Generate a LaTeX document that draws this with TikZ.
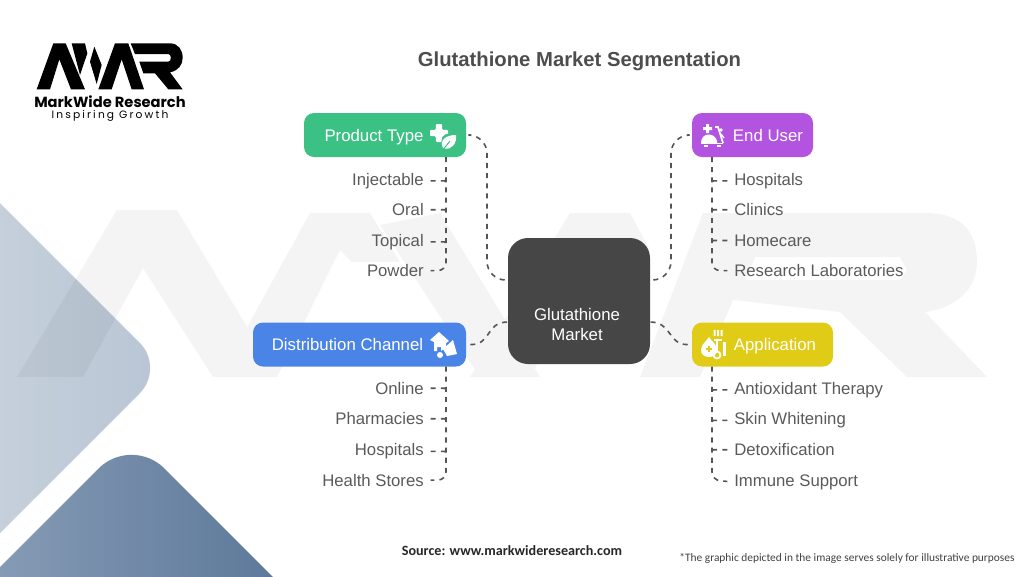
\documentclass[tikz,border=0pt]{standalone}
\usepackage{fontspec}
\setmainfont{Liberation Sans}
\newfontfamily\logofont{Poppins}
\newfontfamily\notefont{Carlito}
\usetikzlibrary{calc}
\definecolor{ink}{HTML}{5A5A5A}
\definecolor{dashc}{HTML}{555555}
\definecolor{gr}{HTML}{3CC184}
\definecolor{pu}{HTML}{B254DF}
\definecolor{bl}{HTML}{4A84E6}
\definecolor{ye}{HTML}{E0CB16}
\definecolor{ce}{HTML}{464646}
\definecolor{titlec}{HTML}{4D4D4D}
\definecolor{la}{HTML}{D2DAE3}
\definecolor{lb}{HTML}{B8C5D4}
\definecolor{da}{HTML}{94A7BF}
\definecolor{db}{HTML}{4C6A8E}
\tikzset{
 x=0.75pt,y=-0.75pt,
 boxn/.style={rounded corners=7.5pt,minimum height=33pt,inner sep=0pt,text=white,text height=9pt,text depth=0pt,font=\fontsize{12.6}{15}\selectfont},
 itemr/.style={anchor=mid west,inner sep=0pt,yshift=-2pt,text=ink,font=\fontsize{12.55}{15}\selectfont},
 iteml/.style={anchor=mid east,inner sep=0pt,yshift=-2pt,text=ink,font=\fontsize{12.55}{15}\selectfont},
 conn/.style={draw=dashc,line width=1.2pt,dash pattern=on 3.8pt off 3.8pt},
 logop/.style={fill=black,draw=none},
 wmp/.style={fill=black,fill opacity=0.045,draw=none},
 icon/.style={fill=white,draw=none},
}
\begin{document}
\begin{tikzpicture}
\useasboundingbox (0,0) rectangle (1024,576);
% background shapes
\begin{scope}
\clip (0,0) rectangle (1024,576);
\path[rounded corners=27pt,shade,shading angle=-20,left color=la,right color=lb] (-160,43)--(165,368)--(-160,693)--cycle;
\path[rounded corners=35pt,shade,shading angle=-20,left color=da,right color=db] (-100,667)--(131.5,435.5)--(390,694)--cycle;
\end{scope}
% watermark
\path[wmp] (17,377)--(117,210)--(177,210)--(277,377)--(213,377)--(143,268)--(83,377)--cycle
 (240,340)--(310,213)--(370,213)--(400,262)--(352,262)--(340,250)--(277,377)--cycle
 (380,225)--(440,213)--(540,377)--(480,377)--cycle
 (470,377)--(570,213)--(630,213)--(650,250)--(600,250)--(530,377)--cycle
 (640,377)--(703,213)--(925,213) .. controls (965,213) and (977,235) .. (977,262) .. controls (977,290) and (955,308) .. (925,312) -- (987,377)--(907,377)--(840,312)--(733,300)--(700,377)--cycle
 (745,280)--(900,280)--(907,270)--(900,257)--(755,257)--cycle;
% logo
\begin{scope}[shift={(0,20)},x=0.25pt,y=-0.25pt]
\path[logop] (110,208)--(160,70)--(197,70)--(255,208)--(213,208)--(178,118)--(150,208)--cycle;
\path[logop] (215,70)--(255,70)--(262,100)--(240,165)--cycle;
\path[logop] (283,80)--(305,135)--(290,192)--(270,125)--cycle;
\path[logop] (295,208)--(345,70)--(385,70)--(432,208)--(395,208)--(365,118)--(335,208)--cycle;
\path[logop] (392,70)--(510,70) .. controls (535,70) and (548,90) .. (548,113) .. controls (548,135) and (535,152) .. (510,157)--(548,208)--(505,208)--(465,160)--(430,160)--(418,125)--(505,125) .. controls (515,125) and (515,102) .. (505,102)--(405,102)--cycle;
\end{scope}
\node[inner sep=0pt,font=\logofont\bfseries\fontsize{11}{12}\selectfont] (logoname) at (110,101.5) {MarkWide Research};
\node[inner sep=0pt,font=\logofont\fontsize{8}{10}\selectfont] (logotag) at (110,115.5) {\addfontfeature{LetterSpace=20}Inspiring Growth};
% title
\node[inner sep=0pt,text=titlec,font=\bfseries\fontsize{15.2}{18}\selectfont] (title) at (579.5,61) {Glutathione Market Segmentation};
% connector coordinates
\coordinate (c1) at (508,280);
\coordinate (c2) at (650,280);
\coordinate (c3) at (508,322);
\coordinate (c4) at (650,322);
\coordinate (m1) at (487,135);
\coordinate (m1b) at (487,280);
\coordinate (m2) at (671,135);
\coordinate (m2b) at (671,280);
\coordinate (t1) at (446,157);
\coordinate (t1b) at (446,270.5);
\coordinate (t2) at (712,157);
\coordinate (t2b) at (712,270.5);
\coordinate (t3) at (446,366.5);
\coordinate (t3b) at (446,480);
\coordinate (t4) at (712,366.5);
\coordinate (t4b) at (712,480);
% boxes
\node[boxn,fill=gr,minimum width=121.5pt] (ptype) at (385,135) {Product Type\hspace*{16.5pt}};
\node[boxn,fill=pu,minimum width=90.75pt] (euser) at (752.5,135) {\hspace*{23.25pt}End User};
\node[boxn,fill=bl,minimum width=159.75pt] (dist) at (359.5,344.5) {Distribution Channel\hspace*{18pt}};
\node[boxn,fill=ye,minimum width=105.75pt] (appl) at (762.5,344.5) {\hspace*{18.75pt}Application};
\node[fill=ce,rounded corners=15pt,minimum width=106.5pt,minimum height=94.5pt,inner sep=0pt] (center) at (579,301) {};
\node[inner sep=0pt,align=center,text=white,font=\fontsize{12.6}{15}\selectfont] (centertext) at (577,324) {Glutathione\\Market};
% items
\node[iteml] (a1) at (424,179) {Injectable};
\node[iteml] (a2) at (424,209.5) {Oral};
\node[iteml] (a3) at (424,240) {Topical};
\node[iteml] (a4) at (424,270.5) {Powder};
\node[itemr] (b1) at (734,179) {Hospitals};
\node[itemr] (b2) at (734,209.5) {Clinics};
\node[itemr] (b3) at (734,240) {Homecare};
\node[itemr] (b4) at (734,270.5) {Research Laboratories};
\node[iteml] (d1) at (424,388) {Online};
\node[iteml] (d2) at (424,418.5) {Pharmacies};
\node[iteml] (d3) at (424,449.5) {Hospitals};
\node[iteml] (d4) at (424,480) {Health Stores};
\node[itemr] (e1) at (734,388) {Antioxidant Therapy};
\node[itemr] (e2) at (734,418.5) {Skin Whitening};
\node[itemr] (e3) at (734,449.5) {Detoxification};
\node[itemr] (e4) at (734,480) {Immune Support};
% main connectors
\draw[conn,rounded corners=14pt,shorten <=3pt] (ptype.east) -- (m1) -- (m1b) -- (c1);
\draw[conn,rounded corners=14pt,shorten <=3pt] (euser.west) -- (m2) -- (m2b) -- (c2);
\draw[conn,shorten <=3pt] (dist.east) .. controls (492,345) and (485,322) .. (c3);
\draw[conn,shorten <=3pt] (appl.west) .. controls (668,345) and (672,322) .. (c4);
% trunks
\draw[conn,rounded corners=6pt,shorten >=5pt] (t1) -- (t1b) -- (a4.east);
\draw[conn,rounded corners=6pt,shorten >=5pt] (t2) -- (t2b) -- (b4.west);
\draw[conn,rounded corners=6pt,shorten >=5pt] (t3) -- (t3b) -- (d4.east);
\draw[conn,rounded corners=6pt,shorten >=5pt] (t4) -- (t4b) -- (e4.west);
\foreach \n in {a1,a2,a3}{\draw[conn,shorten <=5pt,rounded corners=1pt] (\n.east) -- (\n.east -| t1) -- ++(0,3);}
\foreach \n in {b1,b2,b3}{\draw[conn,shorten <=5pt,rounded corners=1pt] (\n.west) -- (\n.west -| t2) -- ++(0,3);}
\foreach \n in {d1,d2,d3}{\draw[conn,shorten <=5pt,rounded corners=1pt] (\n.east) -- (\n.east -| t3) -- ++(0,3);}
\foreach \n in {e1,e2,e3}{\draw[conn,shorten <=5pt,rounded corners=1pt] (\n.west) -- (\n.west -| t4) -- ++(0,3);}
% icon: product type
\begin{scope}[shift={(439,133)}]
\path[icon,rounded corners=0.8pt] (-3.2,-9)--(3.2,-9)--(3.2,-3.2)--(9,-3.2)--(9,3.2)--(3.2,3.2)--(3.2,9)--(-3.2,9)--(-3.2,3.2)--(-9,3.2)--(-9,-3.2)--(-3.2,-3.2)--cycle;
\path[fill=gr] (10,8) circle (7.5);
\path[icon] (4,15) .. controls (0,7) and (7,2) .. (17,2) .. controls (18,10) and (13,17) .. (6,15.5) -- cycle;
\path[draw=gr,line width=0.7pt] (5,15.5)--(11,8);
\end{scope}
% icon: end user
\begin{scope}[shift={(712,135)}]
\path[icon] (-6,-11)--(-3,-11)--(-3,-8)--(0,-8)--(0,-5)--(-3,-5)--(-3,-2)--(-6,-2)--(-6,-5)--(-9,-5)--(-9,-8)--(-6,-8)--cycle;
\path[icon] (-11,8) .. controls (-11,-3) and (3,-3) .. (5,6) -- (5,8) -- cycle;
\path[draw=white,line width=1.3pt] (3,-8)--(6,-8)--(11,8);
\path[icon] (9,-5) circle (1.8);
\path[draw=white,line width=1pt] (9,-1)--(12,3);
\path[icon] (-11,8) rectangle (11,9);
\path[icon] (-8,10) rectangle (-4,11.5);
\path[icon] (5,10) rectangle (9,11.5);
\end{scope}
% icon: distribution
\begin{scope}[shift={(443,345)}]
\path[icon] (-13,-5)--(-4,-13)--(6,-4)--(3,-2)--(3,2)--(-2,6)--(-2,2)--(-6,2)--(-6,6)--(-9,6)--(-9,-3)--cycle;
\path[icon] (0,4)--(10,-5)--(14,9)--(4,11)--cycle;
\path[icon] (-3,10) circle (3);
\end{scope}
% icon: application
\begin{scope}[shift={(714,346)}]
\path[icon] (-5,-9) .. controls (-3,-5) and (3,-2) .. (3,4) .. controls (3,9) and (-1,11) .. (-5,11) .. controls (-10,11) and (-13,8) .. (-13,4) .. controls (-13,-2) and (-7,-5) .. (-5,-9) -- cycle;
\path[draw=ye,line width=1pt] (-8.5,3)--(-2,3) (-5,0)--(-5,6);
\path[icon] (-0.5,-16) rectangle (1.5,-10) (3,-16) rectangle (5,-10) (6.5,-16) rectangle (8.5,-10);
\path[draw=white,line width=1.5pt] (0,-6)--(8,-6) (3,-6)--(3,6);
\path[draw=white,line width=1.3pt] (3,9) circle (3.5);
\path[icon] (9,-4) rectangle (11.5,10);
\end{scope}
% footer
\node[inner sep=0pt,text=black!85,font=\notefont\bfseries\fontsize{10.6}{12}\selectfont] (source) at (512,551) {Source: www.markwideresearch.com};
\node[inner sep=0pt,text=black!75,font=\notefont\fontsize{8.55}{12}\selectfont] (note) at (847,558) {*The graphic depicted in the image serves solely for illustrative purposes};
\end{tikzpicture}
\end{document}
